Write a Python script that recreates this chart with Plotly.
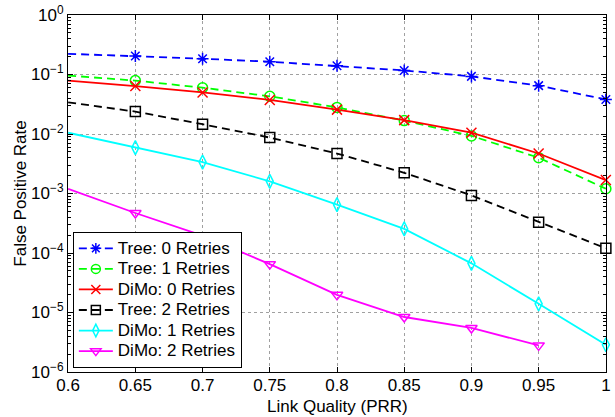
import plotly.graph_objects as go

x = [0.6, 0.65, 0.7, 0.75, 0.8, 0.85, 0.9, 0.95, 1.0]

tree0 = [0.223, 0.204, 0.184, 0.164, 0.140, 0.117, 0.093, 0.065, 0.038]
tree1 = [0.096, 0.079, 0.060, 0.043, 0.028, 0.0168, 0.0093, 0.0040, 0.0012]
dimo0 = [0.079, 0.064, 0.050, 0.0374, 0.0257, 0.0171, 0.0105, 0.0047, 0.00168]
tree2 = [0.034, 0.0238, 0.0146, 0.0087, 0.0047, 0.00223, 0.00093, 0.00033, 0.00012]
dimo1 = [0.0105, 0.0059, 0.00337, 0.0016, 0.00065, 0.000254, 0.000067, 0.000014, 0.00000287]
dimo2_x = [0.6, 0.65, 0.7, 0.75, 0.8, 0.85, 0.9, 0.95]
dimo2 = [0.0012, 0.00047, 0.000196, 0.000065, 0.0000198, 0.0000084, 0.0000055, 0.0000028]

series = [
    ("Tree: 0 Retries", x, tree0, "#0000ff", "8px,5px", "asterisk-open"),
    ("Tree: 1 Retries", x, tree1, "#00ff00", "8px,5px", "circle-open"),
    ("DiMo: 0 Retries", x, dimo0, "#ff0000", "solid", "x-thin-open"),
    ("Tree: 2 Retries", x, tree2, "#000000", "8px,5px", "square-open"),
    ("DiMo: 1 Retries", x, dimo1, "#00ffff", "solid", "diamond-tall-open"),
    ("DiMo: 2 Retries", dimo2_x, dimo2, "#ff00ff", "solid", "triangle-down-open"),
]

fig = go.Figure()
for name, xs, ys, color, dash, sym in series:
    fig.add_trace(go.Scatter(x=xs, y=ys, mode="lines", showlegend=False,
                             line=dict(color=color, width=1.8, dash=dash)))
    fig.add_trace(go.Scatter(x=xs[1:], y=ys[1:], mode="markers", showlegend=False,
                             cliponaxis=False,
                             marker=dict(symbol=sym, size=10, color=color,
                                         line=dict(color=color, width=1.5))))
    fig.add_trace(go.Scatter(x=[None], y=[None], mode="lines+markers",
                             name='<span style="font-size:17px">' + name + '</span>',
                             line=dict(color=color, width=1.8, dash=dash),
                             marker=dict(symbol=sym, size=9, color=color,
                                         line=dict(color=color, width=1.5))))

yvals = [1e-6, 1e-5, 1e-4, 1e-3, 1e-2, 1e-1, 1]
ytext = ["10<sup>−6</sup>", "10<sup>−5</sup>", "10<sup>−4</sup>", "10<sup>−3</sup>",
         "10<sup>−2</sup>", "10<sup>−1</sup>", "10<sup>0</sup>"]
minor_vals = [m * 10 ** e for e in range(-6, 0) for m in range(2, 10)]
xvals = [0.6, 0.65, 0.7, 0.75, 0.8, 0.85, 0.9, 0.95, 1.0]
xtext = ["0.6", "0.65", "0.7", "0.75", "0.8", "0.85", "0.9", "0.95", "1"]

fig.update_layout(
    width=615, height=417,
    margin=dict(l=68, r=9, t=15, b=45),
    paper_bgcolor="white", plot_bgcolor="white",
    font=dict(family="Liberation Sans, Arial, sans-serif", size=17, color="black"),
    legend=dict(x=0.009, y=0.011, xanchor="left", yanchor="bottom",
                bgcolor="white", bordercolor="black", borderwidth=1,
                font=dict(size=13.5), tracegroupgap=0, itemwidth=34),
    xaxis=dict(range=[0.5999, 1.0001], tickvals=xvals, ticktext=xtext,
               showline=True, linecolor="black", linewidth=1, mirror="ticks",
               ticks="inside", ticklen=5, tickcolor="black", automargin=False,
               showgrid=True, gridcolor="#a0a0a0", griddash="dot", gridwidth=1,
               zeroline=False, tickfont=dict(size=17),
               ticklabeloverflow="allow", ticklabelstandoff=-2),
    yaxis=dict(type="log", range=[-6, 0], tickvals=yvals, ticktext=ytext,
               showline=True, linecolor="black", linewidth=1, mirror="ticks",
               ticks="inside", ticklen=5, tickcolor="black", automargin=False,
               showgrid=True, gridcolor="#a0a0a0", griddash="dot", gridwidth=1,
               minor=dict(tickvals=minor_vals, ticks="inside", ticklen=3,
                          tickcolor="black", showgrid=False),
               zeroline=False, tickfont=dict(size=17), ticklabeloverflow="allow",
               title=dict(text="False Positive Rate", standoff=0, font=dict(size=17))),
    annotations=[dict(text="Link Quality (PRR)", xref="paper", yref="paper",
                      x=0.5, y=-0.098, xanchor="center", yanchor="middle",
                      showarrow=False, font=dict(size=17))],
)

fig.write_html("out.html", config={"displayModeBar": False},
               post_script="document.body.style.margin='0';")
